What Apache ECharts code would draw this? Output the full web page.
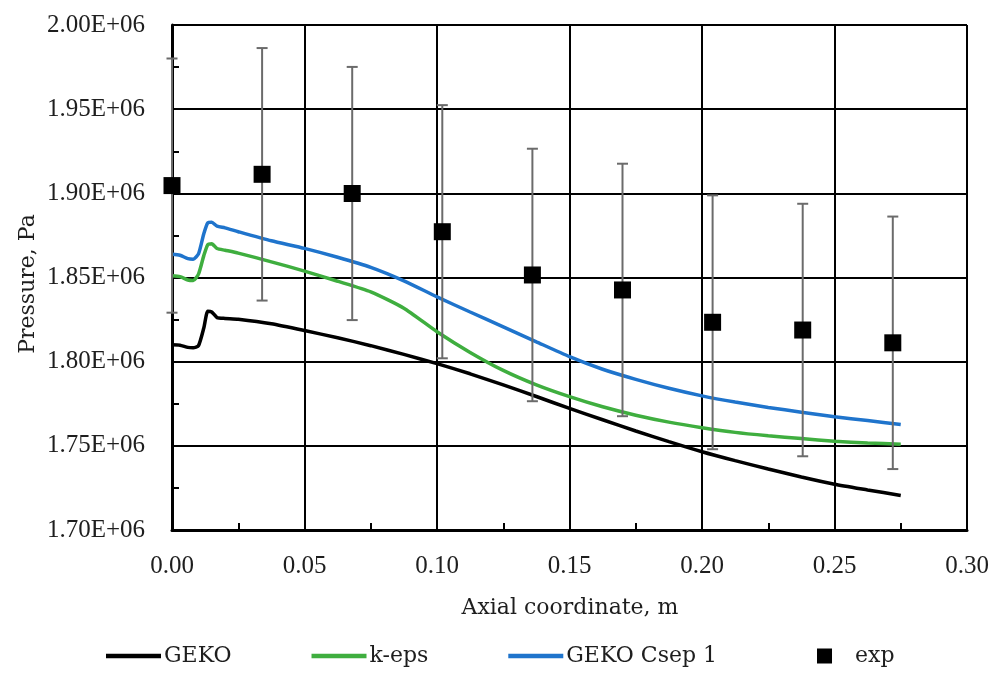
<!DOCTYPE html>
<html>
<head>
<meta charset="utf-8">
<title>Axial pressure distribution</title>
<script src="https://cdn.jsdelivr.net/npm/echarts@6/dist/echarts.min.js"></script>
<style>
  html, body { margin: 0; padding: 0; background: #fff; }
  #chart { width: 1003px; height: 675px; }
</style>
</head>
<body>
<div id="chart"></div>
<script>
// Axial positions (m) for the simulated pressure profiles
const simX = [0, 0.003, 0.006, 0.008, 0.010, 0.012, 0.0135, 0.015, 0.017, 0.020, 0.025,
  0.0375, 0.05, 0.0625, 0.075, 0.0875, 0.10, 0.1125, 0.125, 0.1375, 0.15, 0.1625,
  0.175, 0.1875, 0.20, 0.2125, 0.225, 0.2375, 0.25, 0.2625, 0.275];

// Pressure (Pa), GEKO model
const gekoP = [1810000, 1809800, 1808500, 1808300, 1809500, 1820000, 1830000, 1829500, 1826200,
  1825700, 1825200, 1822500, 1818500, 1814200, 1809500, 1804300, 1798800, 1792800, 1786200,
  1779300, 1772200, 1765500, 1758800, 1752500, 1746500, 1741200, 1736200, 1731500, 1727200,
  1723800, 1720500];

// Pressure (Pa), k-eps model
const kepsP = [1851000, 1850500, 1848500, 1848200, 1852000, 1863000, 1869500, 1870000, 1867200,
  1866200, 1864500, 1859300, 1853800, 1847800, 1841500, 1831800, 1817800, 1805500, 1794800,
  1786200, 1779200, 1773200, 1768200, 1764100, 1760800, 1758000, 1756000, 1754300, 1752700,
  1751700, 1751000];

// Pressure (Pa), GEKO with Csep = 1
const gekoCsepP = [1863800, 1863200, 1861200, 1860900, 1864000, 1876000, 1882500, 1882800, 1880500,
  1879500, 1877200, 1871800, 1867300, 1862000, 1856000, 1848000, 1838500, 1829500, 1820700,
  1811800, 1803000, 1795500, 1789500, 1784200, 1779700, 1776000, 1772800, 1770000, 1767300,
  1765000, 1762700];

// Measured pressure with its uncertainty (Pa)
const expX = [0.000, 0.034, 0.068, 0.102, 0.136, 0.170, 0.204, 0.238, 0.272];
const expP = [1904600, 1911300, 1899900, 1877200, 1851500, 1842600, 1823400, 1818800, 1811200];
const expErr = [75500, 75000, 75200, 75200, 75000, 75000, 75400, 75000, 75000];

// Axis ranges and tick steps
const xTicks = { min: 0, max: 0.30, step: 0.05 };
const yTicks = { min: 1700000, max: 2000000, step: 50000 };

const legendNames = ['GEKO', 'k-eps', 'GEKO Csep 1', 'exp'];
const colors = { geko: '#000000', keps: '#3fae3f', csep: '#1f74cc', exp: '#000000', err: '#6b6b6b' };

const labelFont = 'Liberation Serif';
const textFont = 'DejaVu Serif';

const pair = (xs, ys) => xs.map((x, i) => [x, ys[i]]);

const chart = echarts.init(document.getElementById('chart'), null, { renderer: 'canvas' });

const lineSeries = (name, ys, color) => ({
  name,
  type: 'line',
  data: pair(simX, ys),
  symbol: 'none',
  showSymbol: false,
  smooth: 0.2,
  lineStyle: { color, width: 3.5 },
  itemStyle: { color },
  z: 3
});

// Legend icons: a bar for the model curves, a centred square for the measurements
const lineIcon = 'path://M0,0h55v4.5h-55z';
const squareIcon = 'path://M0,7.5h0.01v0.01h-0.01z M20,0h15v15h-15z M54.99,7.5h0.01v0.01h-0.01z';

const option = {
  animation: false,
  backgroundColor: '#ffffff',
  grid: { left: 172, right: 36, top: 25, bottom: 145, containLabel: false },
  xAxis: {
    type: 'value',
    min: xTicks.min,
    max: xTicks.max,
    interval: xTicks.step,
    axisLine: { show: true, onZero: false, lineStyle: { color: '#000', width: 3 } },
    axisTick: { show: true, inside: true, length: 7, lineStyle: { color: '#000', width: 2 } },
    minorTick: { show: true, splitNumber: 2, length: 7, lineStyle: { color: '#000', width: 2 } },
    splitLine: { show: true, lineStyle: { color: '#000', width: 2 } },
    axisLabel: {
      margin: 24,
      fontFamily: labelFont,
      fontSize: 25,
      color: '#1e1e1e',
      formatter: v => v.toFixed(2)
    }
  },
  yAxis: {
    type: 'value',
    min: yTicks.min,
    max: yTicks.max,
    interval: yTicks.step,
    axisLine: { show: true, onZero: false, lineStyle: { color: '#000', width: 3 } },
    axisTick: { show: true, inside: true, length: 7, lineStyle: { color: '#000', width: 2 } },
    minorTick: { show: true, splitNumber: 2, length: 7, lineStyle: { color: '#000', width: 2 } },
    splitLine: { show: true, lineStyle: { color: '#000', width: 2 } },
    axisLabel: {
      margin: 27,
      fontFamily: labelFont,
      fontSize: 25,
      color: '#1e1e1e',
      formatter: v => (v / 1e6).toFixed(2) + 'E+06'
    }
  },
  legend: {
    left: 106,
    top: 645,
    padding: 0,
    itemWidth: 55,
    itemHeight: 15,
    itemGap: 80,
    textStyle: { fontFamily: textFont, fontSize: 22, color: '#1e1e1e', padding: [0, 0, 0, -2] },
    data: [
      { name: legendNames[0], icon: lineIcon, itemStyle: { color: colors.geko, opacity: 1 } },
      { name: legendNames[1], icon: lineIcon, itemStyle: { color: colors.keps, opacity: 1 } },
      { name: legendNames[2], icon: lineIcon, itemStyle: { color: colors.csep, opacity: 1 } },
      { name: legendNames[3], icon: squareIcon, itemStyle: { color: colors.exp, opacity: 1 } }
    ]
  },
  graphic: [
    {
      type: 'text',
      x: 570, y: 608,
      style: {
        text: 'Axial coordinate, m',
        font: '22px "' + textFont + '"',
        fill: '#1e1e1e',
        align: 'center',
        verticalAlign: 'middle'
      }
    },
    {
      type: 'text',
      x: 28, y: 284,
      rotation: Math.PI / 2,
      style: {
        text: 'Pressure, Pa',
        font: '22px "' + textFont + '"',
        fill: '#1e1e1e',
        align: 'center',
        verticalAlign: 'middle'
      }
    }
  ],
  series: [
    lineSeries(legendNames[0], gekoP, colors.geko),
    lineSeries(legendNames[1], kepsP, colors.keps),
    lineSeries(legendNames[2], gekoCsepP, colors.csep),
    {
      name: 'exp-error',
      type: 'custom',
      data: expX.map((x, i) => [x, expP[i] - expErr[i], expP[i] + expErr[i]]),
      renderItem: (params, api) => {
        const lo = api.coord([api.value(0), api.value(1)]);
        const hi = api.coord([api.value(0), api.value(2)]);
        const cap = 5.5;
        const style = { stroke: colors.err, lineWidth: 2 };
        return {
          type: 'group',
          children: [
            { type: 'line', shape: { x1: lo[0], y1: lo[1], x2: hi[0], y2: hi[1] }, style },
            { type: 'line', shape: { x1: lo[0] - cap, y1: lo[1], x2: lo[0] + cap, y2: lo[1] }, style },
            { type: 'line', shape: { x1: hi[0] - cap, y1: hi[1], x2: hi[0] + cap, y2: hi[1] }, style }
          ]
        };
      },
      clip: false,
      silent: true,
      z: 4
    },
    {
      name: legendNames[3],
      type: 'scatter',
      data: pair(expX, expP),
      symbol: 'rect',
      symbolSize: 17,
      itemStyle: { color: colors.exp, opacity: 1 },
      clip: false,
      z: 5
    }
  ]
};

chart.setOption(option);
</script>
</body>
</html>
